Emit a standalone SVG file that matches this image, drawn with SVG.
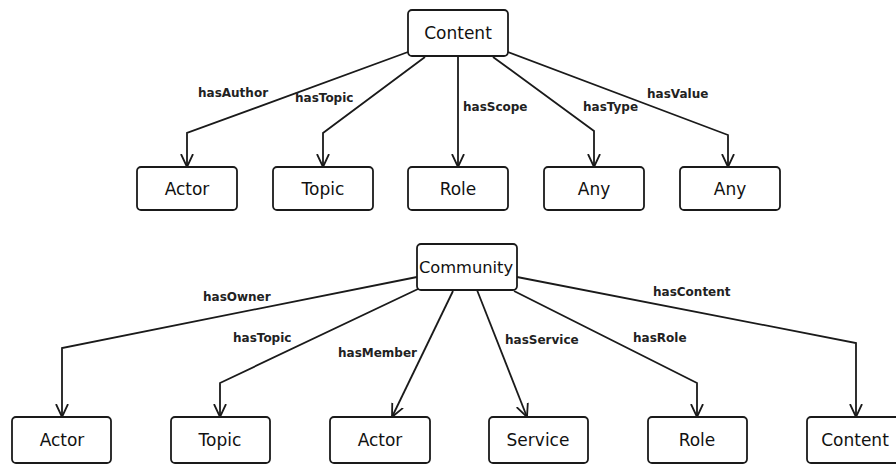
<svg xmlns="http://www.w3.org/2000/svg" width="896" height="464" viewBox="0 0 896 464">
<style>
.box{fill:#fff;stroke:#1a1a1a;stroke-width:1.8}
.nt{font-family:"DejaVu Sans",sans-serif;font-size:17px;fill:#111;text-anchor:middle}
.lb{font-family:"DejaVu Sans",sans-serif;font-size:12px;font-weight:bold;fill:#222}
.cn{fill:none;stroke:#1a1a1a;stroke-width:1.8;marker-end:url(#arr)}
</style>
<defs>
<marker id="arr" markerUnits="userSpaceOnUse" viewBox="0 0 14 14" refX="13" refY="7" markerWidth="14" markerHeight="14" orient="auto">
<path d="M0,1 L13,7 L0,13" fill="none" stroke="#1a1a1a" stroke-width="1.8"/>
</marker>
</defs>
<rect width="896" height="464" fill="#fff"/>
<g id="connectors">
<polyline class="cn" points="408,52 187,133 187,167"/>
<polyline class="cn" points="425,57 323,133 323,167"/>
<polyline class="cn" points="458,57 458,167"/>
<polyline class="cn" points="493,57 594,131 594,167"/>
<polyline class="cn" points="508,52 728,135 728,167"/>
<polyline class="cn" points="417,277 62,348 62,417"/>
<polyline class="cn" points="418,289 220,383 220,417"/>
<polyline class="cn" points="453,291 392,417"/>
<polyline class="cn" points="477,290 527,417"/>
<polyline class="cn" points="514,291 697,383 697,417"/>
<polyline class="cn" points="517,277 856,343 856,417"/>
<text class="lb" x="198" y="97">hasAuthor</text>
<text class="lb" x="295" y="102">hasTopic</text>
<text class="lb" x="463" y="111">hasScope</text>
<text class="lb" x="583" y="111">hasType</text>
<text class="lb" x="647" y="98">hasValue</text>
<text class="lb" x="203" y="301">hasOwner</text>
<text class="lb" x="233" y="342">hasTopic</text>
<text class="lb" x="338" y="357">hasMember</text>
<text class="lb" x="505" y="344">hasService</text>
<text class="lb" x="633" y="342">hasRole</text>
<text class="lb" x="653" y="296">hasContent</text>
</g>
<g id="content"><rect class="box" x="408" y="10" width="100" height="46" rx="4"/><text class="nt" x="458" y="39">Content</text></g>
<g id="actor1"><rect class="box" x="137" y="167" width="100" height="43" rx="4"/><text class="nt" x="187" y="195">Actor</text></g>
<g id="topic1"><rect class="box" x="273" y="167" width="100" height="43" rx="4"/><text class="nt" x="323" y="195">Topic</text></g>
<g id="role1"><rect class="box" x="408" y="167" width="100" height="43" rx="4"/><text class="nt" x="458" y="195">Role</text></g>
<g id="any1"><rect class="box" x="544" y="167" width="100" height="43" rx="4"/><text class="nt" x="594" y="195">Any</text></g>
<g id="any2"><rect class="box" x="680" y="167" width="100" height="43" rx="4"/><text class="nt" x="730" y="195">Any</text></g>
<g id="community"><rect class="box" x="417" y="244" width="100" height="46" rx="4"/><text class="nt" x="466" y="273" style="font-size:16.3px">Community</text></g>
<g id="actor2"><rect class="box" x="12" y="417" width="99" height="46" rx="4"/><text class="nt" x="62" y="446">Actor</text></g>
<g id="topic2"><rect class="box" x="171" y="417" width="99" height="46" rx="4"/><text class="nt" x="220" y="446">Topic</text></g>
<g id="actor3"><rect class="box" x="330" y="417" width="100" height="46" rx="4"/><text class="nt" x="380" y="446">Actor</text></g>
<g id="service"><rect class="box" x="489" y="417" width="99" height="46" rx="4"/><text class="nt" x="538" y="446">Service</text></g>
<g id="role2"><rect class="box" x="648" y="417" width="99" height="46" rx="4"/><text class="nt" x="697" y="446">Role</text></g>
<g id="content2"><rect class="box" x="807" y="417" width="100" height="46" rx="4"/><text class="nt" x="855" y="446">Content</text></g>
</svg>
